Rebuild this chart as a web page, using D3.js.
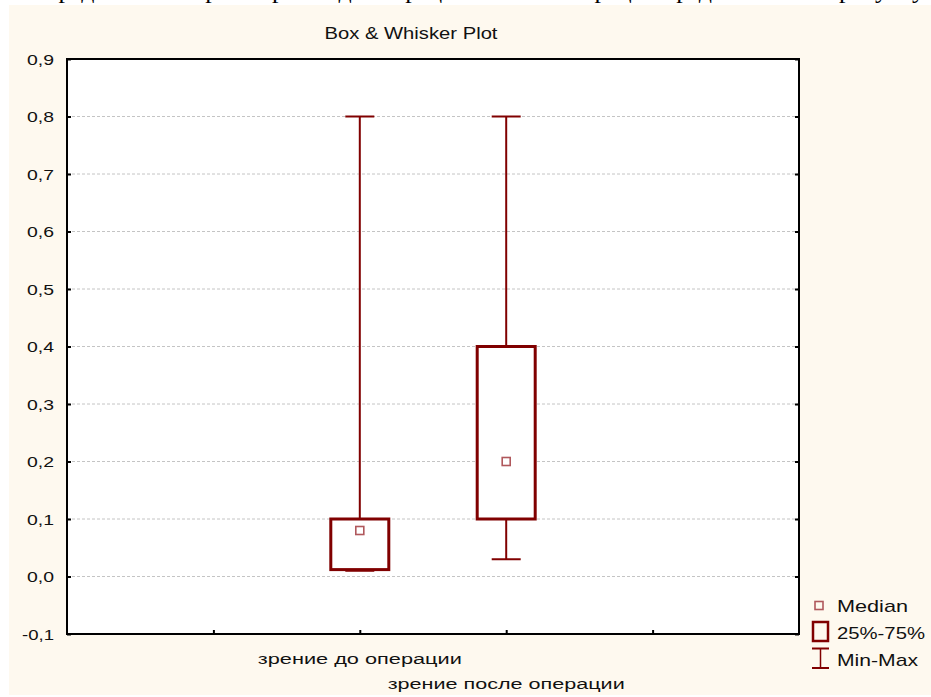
<!DOCTYPE html>
<html><head><meta charset="utf-8">
<script src="https://cdn.jsdelivr.net/npm/d3@7"></script>
<style>html,body{margin:0;padding:0;background:#fff;}svg{display:block;}</style>
</head><body>
<script>
// ---- data ----
const categories = ["зрение до операции", "зрение после операции"];
const catPos = [2, 3];
const mins = [0.01, 0.03];
const q1s = [0.012, 0.1];
const medians = [0.08, 0.2];
const q3s = [0.1, 0.4];
const maxs = [0.8, 0.8];
const yTicks = [-0.1, 0, 0.1, 0.2, 0.3, 0.4, 0.5, 0.6, 0.7, 0.8, 0.9];
const xTicks = [1, 2, 3, 4];
const legendLabels = ["Median", "25%-75%", "Min-Max"];
const title = "Box & Whisker Plot";

const W = 931, H = 697;
const red = "#800000", medCol = "#b0585c";
const svg = d3.select("body").append("svg").attr("width", W).attr("height", H);

// cut-off text line above (from surrounding document)
svg.append("text").attr("x", 10).attr("y", -2)
  .attr("font-family", "Liberation Serif").attr("font-size", 26)
  .attr("textLength", 915).attr("lengthAdjust", "spacing")
  .text("Распределение остроты зрения до операции и после операции представлено на рисунку");

svg.append("rect").attr("x", 9).attr("y", 5).attr("width", W - 9).attr("height", 690).attr("fill", "#fef9ef");

const L = 67, R = 799, T = 59, B = 634;
const x = d3.scaleLinear().domain([0, 5]).range([L, R]);
const y = d3.scaleLinear().domain([-0.1, 0.9]).range([B, T]);
const fmt = v => d3.format(".1f")(v).replace(".", ",").replace("−", "-");

svg.append("rect").attr("x", L).attr("y", T).attr("width", R - L).attr("height", B - T).attr("fill", "#fff");

// grid
svg.append("g").selectAll("line").data(yTicks.filter(v => v > -0.05 && v < 0.85)).join("line")
  .attr("x1", L).attr("x2", R).attr("y1", d => y(d)).attr("y2", d => y(d))
  .attr("stroke", "#c4c4c4").attr("stroke-width", 1).attr("stroke-dasharray", "3,2");

// axes
const gL = svg.append("g").attr("transform", `translate(${L},0)`).call(d3.axisRight(y).tickValues(yTicks).tickSize(4).tickFormat(""));
const gR = svg.append("g").attr("transform", `translate(${R},0)`).call(d3.axisLeft(y).tickValues(yTicks).tickSize(4).tickFormat(""));
const gB = svg.append("g").attr("transform", `translate(0,${B})`).call(d3.axisTop(x).tickValues(xTicks).tickSize(4).tickFormat(""));
[gL, gR, gB].forEach(g => { g.select(".domain").remove(); g.selectAll("line").attr("stroke", "#000").attr("stroke-width", 2); });

svg.append("rect").attr("x", L).attr("y", T).attr("width", R - L).attr("height", B - T)
  .attr("fill", "none").attr("stroke", "#000").attr("stroke-width", 2);

// y labels
svg.append("g").selectAll("text").data(yTicks).join("text")
  .attr("x", 54).attr("y", d => y(d) + 5.5).attr("text-anchor", "end")
  .attr("font-family", "Liberation Sans").attr("font-size", 15.5).attr("fill", "#111")
  .attr("textLength", d => d < 0 ? 32 : 27).attr("lengthAdjust", "spacingAndGlyphs")
  .text(d => fmt(d));

// x labels
const xlY = [664, 689], xlW = [204, 237];
svg.append("g").selectAll("text").data(categories).join("text")
  .attr("x", (d, i) => x(catPos[i])).attr("y", (d, i) => xlY[i]).attr("text-anchor", "middle")
  .attr("font-family", "Liberation Sans").attr("font-size", 15.5).attr("fill", "#111")
  .attr("textLength", (d, i) => xlW[i]).attr("lengthAdjust", "spacingAndGlyphs")
  .text(d => d);

// title
svg.append("text").attr("x", 411).attr("y", 39).attr("text-anchor", "middle")
  .attr("font-family", "Liberation Sans").attr("font-size", 16.5).attr("fill", "#111")
  .attr("textLength", 173).attr("lengthAdjust", "spacingAndGlyphs").text(title);

// boxes
const boxW = 58, capW = 29;
categories.forEach((c, i) => {
  const cx = x(catPos[i]);
  const g = svg.append("g");
  g.append("line").attr("x1", cx).attr("x2", cx).attr("y1", y(maxs[i])).attr("y2", y(q3s[i])).attr("stroke", red).attr("stroke-width", 2);
  g.append("line").attr("x1", cx).attr("x2", cx).attr("y1", y(q1s[i])).attr("y2", y(mins[i])).attr("stroke", red).attr("stroke-width", 2);
  g.append("line").attr("x1", cx - capW / 2).attr("x2", cx + capW / 2).attr("y1", y(maxs[i])).attr("y2", y(maxs[i])).attr("stroke", red).attr("stroke-width", 2);
  g.append("rect").attr("x", cx - boxW / 2).attr("y", y(q3s[i])).attr("width", boxW).attr("height", y(q1s[i]) - y(q3s[i]))
    .attr("fill", "#fff").attr("stroke", red).attr("stroke-width", 3);
  g.append("line").attr("x1", cx - capW / 2).attr("x2", cx + capW / 2).attr("y1", y(mins[i])).attr("y2", y(mins[i])).attr("stroke", red).attr("stroke-width", 2);
  g.append("rect").attr("x", cx - 4).attr("y", y(medians[i]) - 4).attr("width", 8).attr("height", 8)
    .attr("fill", "#fff").attr("stroke", medCol).attr("stroke-width", 1.6);
});

// legend
const lg = svg.append("g");
lg.append("rect").attr("x", 815).attr("y", 601.5).attr("width", 8).attr("height", 8).attr("fill", "none").attr("stroke", medCol).attr("stroke-width", 1.6);
lg.append("rect").attr("x", 813).attr("y", 622).attr("width", 15).attr("height", 19).attr("fill", "none").attr("stroke", red).attr("stroke-width", 2.5);
lg.append("line").attr("x1", 812).attr("x2", 829).attr("y1", 648.5).attr("y2", 648.5).attr("stroke", red).attr("stroke-width", 2);
lg.append("line").attr("x1", 812).attr("x2", 829).attr("y1", 668).attr("y2", 668).attr("stroke", red).attr("stroke-width", 2);
lg.append("line").attr("x1", 820.5).attr("x2", 820.5).attr("y1", 648.5).attr("y2", 668).attr("stroke", red).attr("stroke-width", 1.5);
const lgW = [71, 88, 81], lgY = [612, 639, 666];
lg.selectAll("text").data(legendLabels).join("text")
  .attr("x", 837).attr("y", (d, i) => lgY[i])
  .attr("font-family", "Liberation Sans").attr("font-size", 17).attr("fill", "#111")
  .attr("textLength", (d, i) => lgW[i]).attr("lengthAdjust", "spacingAndGlyphs").text(d => d);
</script>
</body></html>
